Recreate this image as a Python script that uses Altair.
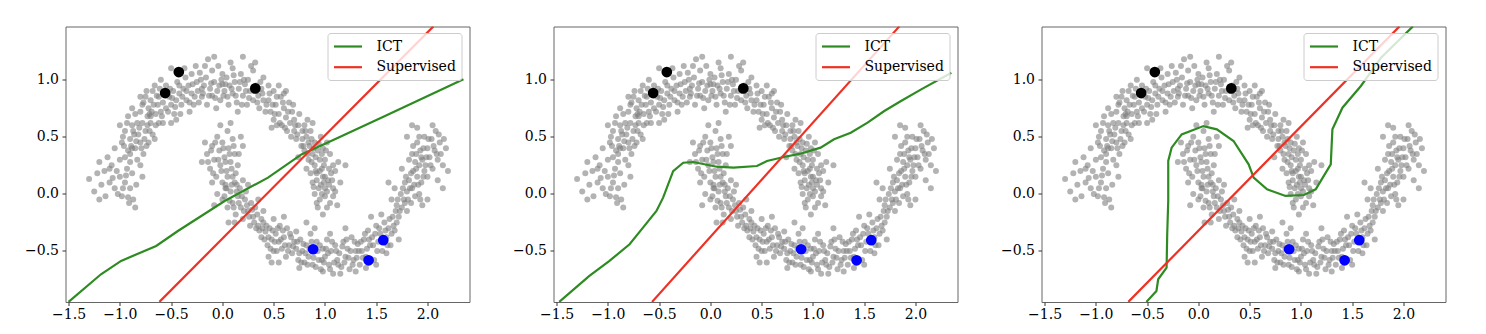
import altair as alt
import pandas as pd

# ---------------- data ----------------
upper_moon = [
    (-1.30, 0.13), (-1.20, 0.28), (-1.20, -0.05), (-1.15, 0.20), (-1.10, 0.10), (-1.08, 0.25), (-1.05, 0.05),
    (-1.00, 0.15), (-1.00, 0.30), (-0.98, -0.02), (-0.95, 0.10), (-0.93, 0.22), (-0.90, 0.35), (-0.90, 0.05),
    (-0.87, -0.05), (-0.85, -0.12), (-0.88, 0.18), (-0.83, 0.30), (-1.12, 0.32), (-1.05, 0.40), (-0.96, 0.42),
    (-1.18, 0.08), (-0.92, -0.03), (-1.02, 0.00),
    (-0.98, 0.45), (-0.95, 0.55), (-0.90, 0.48), (-0.88, 0.60), (-0.85, 0.40), (-0.82, 0.52), (-0.80, 0.45),
    (-0.78, 0.62), (-0.77, 0.35), (-0.75, 0.55), (-0.72, 0.45), (-0.70, 0.68), (-0.92, 0.38), (-0.85, 0.70),
    (-1.00, 0.60), (-0.80, 0.72), (-0.73, 0.60), (-0.68, 0.52), (-0.90, 0.28), (-0.95, 0.32), (-0.86, 0.52),
    (-0.76, 0.48), (-0.83, 0.62), (-0.65, 0.60),
    (-0.78, 0.78), (-0.75, 0.85), (-0.72, 0.75), (-0.70, 0.82), (-0.68, 0.90), (-0.65, 0.70), (-0.63, 0.78),
    (-0.62, 0.85), (-0.60, 0.72), (-0.58, 0.80), (-0.55, 0.95), (-0.55, 0.75), (-0.52, 0.85), (-0.50, 0.78),
    (-0.48, 0.90), (-0.47, 0.70), (-0.45, 0.82), (-0.42, 0.95), (-0.40, 0.78), (-0.42, 0.88), (-0.70, 0.62),
    (-0.66, 0.95), (-0.60, 1.00), (-0.50, 1.10), (-0.58, 0.62), (-0.45, 0.65), (-0.80, 0.85), (-0.73, 0.68),
    (-0.38, 0.92), (-0.36, 1.02), (-0.35, 0.82), (-0.33, 0.95), (-0.30, 1.05), (-0.30, 0.88), (-0.28, 0.78),
    (-0.25, 0.98), (-0.24, 0.90), (-0.22, 1.06), (-0.20, 0.85), (-0.18, 0.95), (-0.16, 1.02), (-0.15, 0.78),
    (-0.12, 0.92), (-0.10, 1.08), (-0.10, 0.86), (-0.08, 0.98), (-0.05, 0.90), (-0.04, 1.12), (-0.02, 0.82),
    (0.00, 0.96), (0.00, 1.05), (-0.26, 1.12), (-0.14, 1.18), (-0.32, 0.72), (-0.06, 0.75), (-0.20, 0.92),
    (0.02, 0.90), (0.04, 1.02), (0.05, 0.85), (0.07, 0.95), (0.10, 1.10), (0.10, 0.88), (0.12, 0.98),
    (0.14, 0.80), (0.16, 0.92), (0.18, 1.05), (0.20, 0.86), (0.22, 0.96), (0.24, 0.78), (0.25, 1.00),
    (0.27, 0.90), (0.30, 0.82), (0.30, 1.08), (0.33, 0.95), (0.35, 0.86), (0.36, 0.75), (0.38, 0.92),
    (0.40, 0.82), (0.40, 1.02), (0.20, 1.20), (0.08, 1.15), (0.42, 0.72), (0.15, 0.72), (0.45, 0.95),
    (0.45, 0.82), (0.47, 0.72), (0.50, 0.90), (0.50, 0.65), (0.52, 0.78), (0.55, 0.70), (0.57, 0.85),
    (0.58, 0.60), (0.60, 0.75), (0.62, 0.67), (0.63, 0.55), (0.65, 0.80), (0.66, 0.62), (0.68, 0.72),
    (0.70, 0.55), (0.70, 0.65), (0.72, 0.48), (0.74, 0.60), (0.75, 0.70), (0.55, 0.95), (0.60, 0.88),
    (0.48, 0.58), (0.78, 0.55), (0.77, 0.42),
    (0.78, 0.48), (0.80, 0.38), (0.80, 0.60), (0.82, 0.50), (0.84, 0.30), (0.85, 0.42), (0.86, 0.55),
    (0.88, 0.35), (0.90, 0.25), (0.90, 0.45), (0.92, 0.18), (0.93, 0.38), (0.95, 0.30), (0.96, 0.50),
    (0.97, 0.22), (0.98, 0.40), (1.00, 0.15), (1.00, 0.30), (1.02, 0.45), (0.88, 0.62), (0.74, 0.32),
    (1.05, 0.35), (1.08, 0.25), (0.82, 0.22),
    (0.88, 0.10), (0.90, 0.00), (0.92, 0.12), (0.95, -0.05), (0.96, 0.08), (0.98, 0.15), (1.00, -0.02),
    (1.00, 0.05), (1.03, 0.12), (1.05, -0.08), (1.06, 0.18), (1.08, 0.05), (1.10, 0.20), (1.12, -0.10),
    (0.93, -0.12), (0.86, 0.18), (1.15, 0.10), (1.20, 0.25), (0.98, -0.18), (1.08, -0.02),
]

upper_moon_extra = [
    (-1.25, 0.02), (-1.22, 0.18), (-1.14, -0.02), (-1.10, 0.22), (-1.07, 0.14), (-1.03, 0.20), (-0.97, 0.05),
    (-0.94, 0.16), (-0.91, -0.08), (-0.88, 0.40), (-0.84, 0.08), (-0.80, 0.25), (-0.78, 0.15),
    (-0.97, 0.50), (-0.93, 0.62), (-0.89, 0.42), (-0.87, 0.55), (-0.84, 0.46), (-0.81, 0.58), (-0.79, 0.40),
    (-0.74, 0.42), (-0.71, 0.55), (-0.69, 0.72), (-0.66, 0.48), (-0.62, 0.62), (-0.88, 0.75), (-0.92, 0.68),
    (-0.77, 0.80), (-0.74, 0.90), (-0.71, 0.70), (-0.67, 0.78), (-0.64, 0.86), (-0.61, 0.92), (-0.59, 0.68),
    (-0.57, 0.88), (-0.53, 0.72), (-0.51, 0.92), (-0.49, 0.84), (-0.46, 0.76), (-0.44, 0.98), (-0.41, 0.70),
    (-0.39, 0.85), (-0.37, 1.10), (-0.50, 0.62),
    (-0.35, 0.90), (-0.32, 0.80), (-0.29, 0.96), (-0.27, 0.85), (-0.23, 0.80), (-0.21, 1.00), (-0.19, 0.88),
    (-0.17, 1.12), (-0.13, 0.86), (-0.11, 0.97), (-0.07, 0.84), (-0.03, 0.95), (-0.01, 1.00), (-0.08, 1.20),
    (0.01, 0.86), (0.03, 0.96), (0.06, 0.78), (0.09, 0.92), (0.11, 1.04), (0.13, 0.86), (0.17, 0.98),
    (0.19, 0.78), (0.21, 1.00), (0.23, 0.90), (0.26, 0.84), (0.28, 1.12), (0.31, 0.90), (0.34, 0.80),
    (0.37, 0.98), (0.39, 0.88), (0.43, 0.78), (0.32, 1.15),
    (0.46, 0.88), (0.49, 0.78), (0.51, 0.70), (0.53, 0.85), (0.56, 0.62), (0.59, 0.80), (0.61, 0.58),
    (0.64, 0.72), (0.67, 0.50), (0.69, 0.78), (0.71, 0.60), (0.73, 0.52), (0.62, 0.90), (0.53, 0.60),
    (0.79, 0.42), (0.81, 0.55), (0.83, 0.35), (0.84, 0.45), (0.87, 0.28), (0.87, 0.48), (0.89, 0.40),
    (0.91, 0.32), (0.94, 0.44), (0.95, 0.20), (0.97, 0.35), (0.99, 0.25), (1.01, 0.38), (1.04, 0.22),
    (0.83, 0.65), (0.89, 0.06), (0.91, 0.20), (0.94, 0.05), (0.97, 0.00), (0.99, 0.10), (1.02, 0.02),
    (1.04, 0.08), (1.07, 0.12), (1.10, 0.02), (0.92, -0.08), (1.13, 0.28), (1.02, -0.12),
]

lower_moon = [
    (-0.15, 0.35), (-0.12, 0.22), (-0.10, 0.42), (-0.08, 0.30), (-0.06, 0.15), (-0.05, 0.50), (-0.03, 0.38),
    (-0.02, 0.25), (0.00, 0.10), (0.00, 0.45), (0.02, 0.32), (0.04, 0.20), (0.05, 0.55), (0.06, 0.40),
    (0.08, 0.28), (0.10, 0.15), (0.10, 0.48), (0.12, 0.35), (-0.20, 0.28), (0.15, 0.25), (-0.02, 0.60),
    (0.08, 0.62), (0.20, 0.42), (0.18, 0.50), (-0.10, 0.10), (0.14, 0.08), (0.03, 0.05),
    (-0.05, 0.00), (0.00, -0.05), (0.03, 0.08), (0.05, -0.12), (0.08, 0.02), (0.10, -0.08), (0.12, 0.10),
    (0.13, -0.18), (0.15, -0.02), (0.17, 0.05), (0.18, -0.12), (0.20, -0.22), (0.22, -0.05), (0.23, 0.02),
    (0.25, -0.15), (0.27, -0.28), (0.28, -0.08), (0.30, -0.20), (0.32, -0.12), (0.33, -0.30), (0.35, -0.05),
    (0.06, -0.25), (0.20, 0.12), (-0.08, -0.10), (0.38, -0.22), (0.25, 0.08),
    (0.35, -0.28), (0.38, -0.38), (0.40, -0.25), (0.42, -0.33), (0.44, -0.45), (0.46, -0.30), (0.48, -0.40),
    (0.50, -0.22), (0.50, -0.50), (0.52, -0.35), (0.55, -0.42), (0.56, -0.28), (0.58, -0.48), (0.60, -0.38),
    (0.62, -0.55), (0.63, -0.30), (0.65, -0.45), (0.67, -0.38), (0.68, -0.52), (0.70, -0.42), (0.45, -0.55),
    (0.55, -0.60), (0.40, -0.15), (0.60, -0.20), (0.72, -0.33), (0.53, -0.50),
    (0.72, -0.48), (0.74, -0.58), (0.76, -0.40), (0.78, -0.50), (0.80, -0.60), (0.82, -0.45), (0.84, -0.55),
    (0.86, -0.35), (0.88, -0.62), (0.90, -0.50), (0.92, -0.42), (0.94, -0.58), (0.96, -0.66), (0.98, -0.48),
    (1.00, -0.55), (1.02, -0.40), (1.04, -0.62), (1.06, -0.50), (1.08, -0.70), (1.10, -0.45), (1.12, -0.58),
    (1.14, -0.52), (1.16, -0.64), (1.18, -0.42), (1.20, -0.55), (1.22, -0.48), (1.24, -0.66), (1.26, -0.38),
    (1.28, -0.58), (1.30, -0.50), (1.32, -0.44), (1.34, -0.62), (0.90, -0.30), (1.05, -0.35), (0.82, -0.25),
    (1.20, -0.30), (0.98, -0.68), (1.15, -0.70), (1.30, -0.68), (0.75, -0.65),
    (1.36, -0.50), (1.38, -0.40), (1.40, -0.55), (1.42, -0.32), (1.44, -0.45), (1.46, -0.38), (1.48, -0.58),
    (1.50, -0.28), (1.52, -0.42), (1.54, -0.35), (1.56, -0.50), (1.58, -0.25), (1.60, -0.38), (1.62, -0.30),
    (1.64, -0.45), (1.66, -0.20), (1.68, -0.32), (1.70, -0.25), (1.45, -0.20), (1.55, -0.18), (1.72, -0.40),
    (1.40, -0.65), (1.50, -0.62), (1.60, -0.52),
    (1.70, -0.10), (1.72, -0.20), (1.74, 0.00), (1.75, -0.12), (1.77, -0.05), (1.78, 0.10), (1.80, -0.15),
    (1.80, 0.02), (1.82, 0.12), (1.84, -0.08), (1.85, 0.05), (1.86, 0.20), (1.88, -0.02), (1.90, 0.15),
    (1.92, 0.00), (1.92, 0.25), (1.94, 0.10), (1.95, -0.10), (1.97, 0.20), (1.65, -0.05), (1.68, 0.05),
    (2.00, -0.05), (1.75, 0.22), (1.62, 0.10),
    (1.85, 0.35), (1.88, 0.28), (1.90, 0.45), (1.93, 0.38), (1.95, 0.30), (1.97, 0.50), (1.98, 0.25),
    (2.00, 0.40), (2.00, 0.15), (2.02, 0.32), (2.04, 0.48), (2.05, 0.22), (2.07, 0.38), (2.08, 0.55),
    (2.10, 0.30), (2.10, 0.12), (2.12, 0.45), (2.15, 0.25), (2.18, 0.40), (1.80, 0.50), (1.85, 0.60),
    (2.05, 0.60), (1.82, 0.30), (2.15, 0.05),
]

lower_moon_extra = [
    (-0.14, 0.28), (-0.11, 0.38), (-0.09, 0.18), (-0.07, 0.45), (-0.04, 0.30), (-0.01, 0.20), (0.01, 0.40),
    (0.03, 0.28), (0.05, 0.15), (0.07, 0.35), (0.09, 0.22), (0.11, 0.42), (0.13, 0.18), (-0.17, 0.45),
    (0.16, 0.35), (0.02, -0.02), (0.04, 0.05), (0.07, -0.06), (0.09, 0.08), (0.11, -0.12), (0.14, 0.02),
    (0.16, -0.08), (0.19, -0.02), (0.21, -0.15), (0.24, -0.10), (0.26, -0.20), (0.29, -0.14), (0.31, -0.25),
    (0.34, -0.18), (0.36, -0.32), (0.12, -0.25),
    (0.39, -0.30), (0.41, -0.40), (0.43, -0.28), (0.45, -0.38), (0.47, -0.48), (0.49, -0.32), (0.51, -0.42),
    (0.54, -0.30), (0.57, -0.40), (0.59, -0.32), (0.61, -0.45), (0.64, -0.50), (0.66, -0.35), (0.69, -0.46),
    (0.48, -0.60), (0.73, -0.42), (0.75, -0.52), (0.77, -0.60), (0.79, -0.44), (0.81, -0.52), (0.83, -0.62),
    (0.85, -0.48), (0.87, -0.42), (0.89, -0.56), (0.91, -0.64), (0.93, -0.50), (0.95, -0.45), (0.97, -0.58),
    (0.99, -0.60), (1.01, -0.48), (1.03, -0.52), (1.05, -0.66), (1.07, -0.42), (1.09, -0.60), (1.11, -0.50),
    (1.13, -0.62), (1.17, -0.46), (1.19, -0.60), (1.21, -0.40), (1.23, -0.56), (1.25, -0.50), (1.27, -0.62),
    (1.29, -0.42), (1.31, -0.56), (1.33, -0.50),
    (1.35, -0.42), (1.37, -0.56), (1.39, -0.35), (1.41, -0.48), (1.43, -0.40), (1.47, -0.45), (1.49, -0.35),
    (1.51, -0.50), (1.53, -0.30), (1.57, -0.42), (1.59, -0.32), (1.61, -0.45), (1.63, -0.22), (1.65, -0.35),
    (1.67, -0.28), (1.69, -0.15), (1.71, -0.05), (1.73, -0.15), (1.76, 0.05), (1.78, -0.08), (1.79, 0.15),
    (1.81, -0.05), (1.83, 0.05), (1.84, 0.18), (1.87, 0.08), (1.89, 0.22), (1.91, 0.08), (1.93, -0.05),
    (1.96, 0.15), (1.86, 0.42), (1.89, 0.35), (1.92, 0.50), (1.94, 0.32), (1.96, 0.40), (1.99, 0.32),
    (2.01, 0.48), (2.03, 0.25), (2.06, 0.42), (2.09, 0.35), (2.11, 0.52), (2.13, 0.35), (2.16, 0.48),
    (2.20, 0.20), (1.90, 0.58),
]

black_x = [-0.425, -0.558, 0.321]
black_y = [1.067, 0.883, 0.924]
blue_x = [0.885, 1.426, 1.569]
blue_y = [-0.485, -0.582, -0.406]

ict1_x = [-1.50, -1.184, -0.988, -0.646, -0.434, 0.022, 0.445, 0.771, 1.097, 1.586, 2.351]
ict1_y = [-0.946, -0.704, -0.587, -0.456, -0.325, -0.062, 0.142, 0.346, 0.478, 0.682, 1.003]
sup1_x = [-0.614, 2.058]
sup1_y = [-0.946, 1.467]

ict2_x = [-1.474, -1.180, -0.984, -0.788, -0.657, -0.526, -0.461, -0.363, -0.265, -0.167, 0.062, 0.225,
          0.454, 0.552, 0.716, 0.879, 1.075, 1.206, 1.369, 1.533, 1.696, 1.859, 2.056, 2.350]
ict2_y = [-0.946, -0.719, -0.587, -0.441, -0.296, -0.150, -0.033, 0.200, 0.273, 0.279, 0.238, 0.230,
          0.244, 0.288, 0.323, 0.352, 0.405, 0.478, 0.536, 0.624, 0.726, 0.813, 0.915, 1.061]
sup2_x = [-0.569, 1.843]
sup2_y = [-0.946, 1.467]

ict3_x = [-0.507, -0.409, -0.392, -0.310, -0.304, -0.294, -0.294, -0.261, -0.163, 0.049, 0.180, 0.343,
          0.490, 0.539, 0.670, 0.850, 1.029, 1.144, 1.291, 1.307, 1.405, 1.585, 1.781, 2.092]
ict3_y = [-0.946, -0.850, -0.748, -0.646, -0.354, -0.062, 0.288, 0.405, 0.521, 0.594, 0.565, 0.463,
          0.259, 0.142, 0.040, -0.018, -0.010, 0.040, 0.259, 0.565, 0.755, 0.945, 1.193, 1.467]
sup3_x = [-0.683, 1.961]
sup3_y = [-0.946, 1.467]

x_ticks = [-1.5, -1.0, -0.5, 0.0, 0.5, 1.0, 1.5, 2.0]
y_ticks = [-0.5, 0.0, 0.5, 1.0]
series_names = ["ICT", "Supervised"]
series_colors = ["#2e8b22", "#ee3124"]

# ---------------- tables ----------------
scatter_df = pd.DataFrame(upper_moon + upper_moon_extra + lower_moon + lower_moon_extra, columns=["x", "y"])
black_df = pd.DataFrame({"x": black_x, "y": black_y})
blue_df = pd.DataFrame({"x": blue_x, "y": blue_y})

FONT = "DejaVu Serif"
MINUS = "replace(datum.label, '-', '\u2212')"
xs = alt.Scale(domain=[-1.53, 2.41], nice=False, zero=False)
ys = alt.Scale(domain=[-0.947, 1.466], nice=False, zero=False)
x_axis = alt.Axis(values=x_ticks, format=".1f", labelExpr=MINUS, title=None, grid=False, domain=False,
                  tickSize=3.5, labelPadding=2, labelFont=FONT, labelFontSize=14,
                  labelColor="black", tickColor="#333", labelFlush=False)
y_axis = alt.Axis(values=y_ticks, format=".1f", labelExpr=MINUS, title=None, grid=False, domain=False,
                  tickSize=3.5, labelPadding=3.5, labelFont=FONT, labelFontSize=14,
                  labelColor="black", tickColor="#333", labelFlush=False)


def panel(ix, iy, sx, sy):
    rows = []
    for i, (a, b) in enumerate(zip(ix, iy)):
        rows.append({"x": a, "y": b, "series": "ICT", "ord": i})
    for i, (a, b) in enumerate(zip(sx, sy)):
        rows.append({"x": a, "y": b, "series": "Supervised", "ord": i})
    line_df = pd.DataFrame(rows)

    pts = alt.Chart(scatter_df).mark_circle(size=36, color="#808080", opacity=0.6, clip=True).encode(
        x=alt.X("x:Q", scale=xs, axis=x_axis),
        y=alt.Y("y:Q", scale=ys, axis=y_axis),
    )
    blk = alt.Chart(black_df).mark_circle(size=115, color="black", opacity=1).encode(
        x=alt.X("x:Q", scale=xs), y=alt.Y("y:Q", scale=ys))
    blu = alt.Chart(blue_df).mark_circle(size=115, color="#0000ff", opacity=1).encode(
        x=alt.X("x:Q", scale=xs), y=alt.Y("y:Q", scale=ys))
    lines = alt.Chart(line_df).mark_line(strokeWidth=2.2, clip=True).encode(
        x=alt.X("x:Q", scale=xs),
        y=alt.Y("y:Q", scale=ys),
        order=alt.Order("ord:Q"),
        color=alt.Color("series:N", scale=alt.Scale(domain=series_names, range=series_colors),
                        legend=alt.Legend(title=None, orient="none", legendX=262, legendY=6.5,
                                          symbolType="M-1,0H3", symbolSize=196, symbolStrokeWidth=2.2,
                                          labelFont=FONT, labelFontSize=14, labelColor="black",
                                          fillColor="rgba(255,255,255,0.8)", strokeColor="#cccccc",
                                          cornerRadius=3, padding=5, rowPadding=4.7, labelOffset=27,
                                          direction="vertical")),
    )
    return alt.layer(pts, blk, blu, lines).properties(width=404, height=275.5)


chart = alt.hconcat(
    panel(ict1_x, ict1_y, sup1_x, sup1_y),
    panel(ict2_x, ict2_y, sup2_x, sup2_y),
    panel(ict3_x, ict3_y, sup3_x, sup3_y),
    spacing=84, bounds="flush",
).resolve_scale(color="independent").configure_view(stroke="#666", strokeWidth=1).properties(
    padding={"left": 23.5, "top": 25.5, "right": 10, "bottom": 5},
    background="white",
)

chart.save("out.html", embed_options={"renderer": "svg", "actions": False})
